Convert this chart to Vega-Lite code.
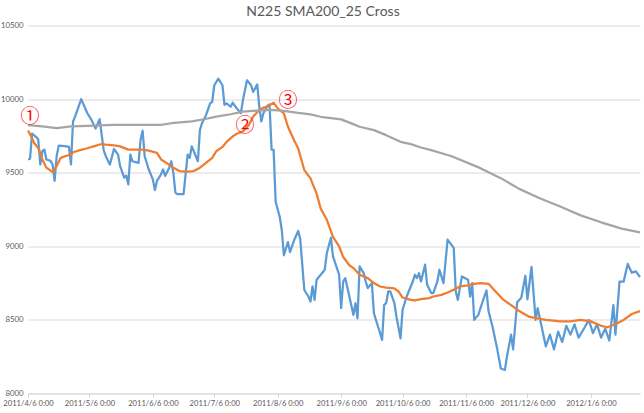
{
  "$schema": "https://vega.github.io/schema/vega-lite/v6.json",
  "width": 612,
  "height": 368,
  "autosize": {"type": "none"},
  "padding": {"left": 28, "top": 25.5, "right": 4, "bottom": 19.5},
  "background": "white",
  "config": {"view": {"stroke": null}, "font": "Lato"},
  "title": {"text": "N225 SMA200_25 Cross", "fontSize": 14, "font": "Lato", "fontWeight": "normal", "color": "#595959", "offset": 3, "dx": -11, "anchor": "middle"},
  "datasets": {
    "close": [
      {"date": "2011/04/06", "value": 9590}, {"date": "2011/04/07", "value": 9595}, {"date": "2011/04/08", "value": 9765},
      {"date": "2011/04/10", "value": 9742}, {"date": "2011/04/11", "value": 9725}, {"date": "2011/04/12", "value": 9556},
      {"date": "2011/04/13", "value": 9646}, {"date": "2011/04/14", "value": 9657}, {"date": "2011/04/15", "value": 9590},
      {"date": "2011/04/17", "value": 9580}, {"date": "2011/04/18", "value": 9556}, {"date": "2011/04/19", "value": 9444},
      {"date": "2011/04/20", "value": 9612}, {"date": "2011/04/21", "value": 9684}, {"date": "2011/04/24", "value": 9680},
      {"date": "2011/04/26", "value": 9675}, {"date": "2011/04/27", "value": 9556}, {"date": "2011/04/28", "value": 9848},
      {"date": "2011/04/29", "value": 9881}, {"date": "2011/05/02", "value": 10000}, {"date": "2011/05/05", "value": 9904},
      {"date": "2011/05/07", "value": 9859}, {"date": "2011/05/09", "value": 9800}, {"date": "2011/05/11", "value": 9863},
      {"date": "2011/05/13", "value": 9652}, {"date": "2011/05/14", "value": 9612}, {"date": "2011/05/16", "value": 9556},
      {"date": "2011/05/18", "value": 9661}, {"date": "2011/05/20", "value": 9623}, {"date": "2011/05/21", "value": 9545},
      {"date": "2011/05/23", "value": 9466}, {"date": "2011/05/24", "value": 9480}, {"date": "2011/05/25", "value": 9421},
      {"date": "2011/05/26", "value": 9623}, {"date": "2011/05/27", "value": 9578}, {"date": "2011/05/30", "value": 9567},
      {"date": "2011/05/31", "value": 9724}, {"date": "2011/06/01", "value": 9785}, {"date": "2011/06/02", "value": 9612},
      {"date": "2011/06/04", "value": 9522}, {"date": "2011/06/06", "value": 9455}, {"date": "2011/06/07", "value": 9383},
      {"date": "2011/06/08", "value": 9444}, {"date": "2011/06/10", "value": 9489}, {"date": "2011/06/11", "value": 9522},
      {"date": "2011/06/12", "value": 9478}, {"date": "2011/06/14", "value": 9534}, {"date": "2011/06/15", "value": 9578},
      {"date": "2011/06/16", "value": 9500}, {"date": "2011/06/17", "value": 9365}, {"date": "2011/06/18", "value": 9354},
      {"date": "2011/06/21", "value": 9354}, {"date": "2011/06/22", "value": 9489}, {"date": "2011/06/23", "value": 9623},
      {"date": "2011/06/24", "value": 9601}, {"date": "2011/06/25", "value": 9679}, {"date": "2011/06/27", "value": 9612},
      {"date": "2011/06/28", "value": 9578}, {"date": "2011/06/29", "value": 9791}, {"date": "2011/06/30", "value": 9836},
      {"date": "2011/07/02", "value": 9892}, {"date": "2011/07/04", "value": 9971}, {"date": "2011/07/05", "value": 9982},
      {"date": "2011/07/06", "value": 10094}, {"date": "2011/07/08", "value": 10139}, {"date": "2011/07/10", "value": 10094},
      {"date": "2011/07/11", "value": 9960}, {"date": "2011/07/12", "value": 9971}, {"date": "2011/07/14", "value": 9948},
      {"date": "2011/07/15", "value": 9975}, {"date": "2011/07/17", "value": 9937}, {"date": "2011/07/19", "value": 9904},
      {"date": "2011/07/20", "value": 9993}, {"date": "2011/07/22", "value": 10128}, {"date": "2011/07/24", "value": 10094},
      {"date": "2011/07/25", "value": 10049}, {"date": "2011/07/27", "value": 10099}, {"date": "2011/07/28", "value": 9948},
      {"date": "2011/07/29", "value": 9848}, {"date": "2011/07/30", "value": 9904}, {"date": "2011/08/01", "value": 9955},
      {"date": "2011/08/02", "value": 9964}, {"date": "2011/08/03", "value": 9657}, {"date": "2011/08/04", "value": 9655},
      {"date": "2011/08/05", "value": 9301}, {"date": "2011/08/07", "value": 9199}, {"date": "2011/08/08", "value": 9109},
      {"date": "2011/08/09", "value": 8939}, {"date": "2011/08/11", "value": 9029}, {"date": "2011/08/12", "value": 8961},
      {"date": "2011/08/14", "value": 9041}, {"date": "2011/08/16", "value": 9104}, {"date": "2011/08/17", "value": 9050},
      {"date": "2011/08/19", "value": 8703}, {"date": "2011/08/21", "value": 8659}, {"date": "2011/08/22", "value": 8625},
      {"date": "2011/08/23", "value": 8727}, {"date": "2011/08/24", "value": 8636}, {"date": "2011/08/25", "value": 8773},
      {"date": "2011/08/27", "value": 8807}, {"date": "2011/08/29", "value": 8841}, {"date": "2011/08/30", "value": 8955},
      {"date": "2011/09/01", "value": 9057}, {"date": "2011/09/02", "value": 8932}, {"date": "2011/09/05", "value": 8807},
      {"date": "2011/09/06", "value": 8580}, {"date": "2011/09/07", "value": 8761}, {"date": "2011/09/08", "value": 8784},
      {"date": "2011/09/10", "value": 8659}, {"date": "2011/09/12", "value": 8534}, {"date": "2011/09/13", "value": 8614},
      {"date": "2011/09/14", "value": 8511}, {"date": "2011/09/15", "value": 8864}, {"date": "2011/09/17", "value": 8818},
      {"date": "2011/09/18", "value": 8761}, {"date": "2011/09/19", "value": 8716}, {"date": "2011/09/21", "value": 8750},
      {"date": "2011/09/22", "value": 8545}, {"date": "2011/09/24", "value": 8455}, {"date": "2011/09/26", "value": 8364},
      {"date": "2011/09/27", "value": 8602}, {"date": "2011/09/28", "value": 8614}, {"date": "2011/09/29", "value": 8693},
      {"date": "2011/09/30", "value": 8693}, {"date": "2011/10/02", "value": 8614}, {"date": "2011/10/03", "value": 8523},
      {"date": "2011/10/05", "value": 8375}, {"date": "2011/10/06", "value": 8568}, {"date": "2011/10/08", "value": 8659},
      {"date": "2011/10/10", "value": 8727}, {"date": "2011/10/11", "value": 8761}, {"date": "2011/10/12", "value": 8807},
      {"date": "2011/10/13", "value": 8784}, {"date": "2011/10/14", "value": 8818}, {"date": "2011/10/15", "value": 8761},
      {"date": "2011/10/17", "value": 8875}, {"date": "2011/10/18", "value": 8739}, {"date": "2011/10/20", "value": 8682},
      {"date": "2011/10/21", "value": 8682}, {"date": "2011/10/23", "value": 8761}, {"date": "2011/10/24", "value": 8841},
      {"date": "2011/10/26", "value": 8750}, {"date": "2011/10/28", "value": 9045}, {"date": "2011/10/31", "value": 8989},
      {"date": "2011/11/01", "value": 8693}, {"date": "2011/11/02", "value": 8636}, {"date": "2011/11/04", "value": 8795},
      {"date": "2011/11/07", "value": 8773}, {"date": "2011/11/08", "value": 8659}, {"date": "2011/11/09", "value": 8750},
      {"date": "2011/11/10", "value": 8500}, {"date": "2011/11/12", "value": 8534}, {"date": "2011/11/14", "value": 8620},
      {"date": "2011/11/16", "value": 8700}, {"date": "2011/11/17", "value": 8560}, {"date": "2011/11/19", "value": 8450},
      {"date": "2011/11/21", "value": 8320}, {"date": "2011/11/23", "value": 8170}, {"date": "2011/11/25", "value": 8160},
      {"date": "2011/11/26", "value": 8250}, {"date": "2011/11/28", "value": 8400}, {"date": "2011/11/29", "value": 8300},
      {"date": "2011/12/01", "value": 8620}, {"date": "2011/12/03", "value": 8650}, {"date": "2011/12/05", "value": 8800},
      {"date": "2011/12/06", "value": 8640}, {"date": "2011/12/08", "value": 8860}, {"date": "2011/12/10", "value": 8500},
      {"date": "2011/12/11", "value": 8580}, {"date": "2011/12/13", "value": 8450}, {"date": "2011/12/15", "value": 8320},
      {"date": "2011/12/17", "value": 8400}, {"date": "2011/12/19", "value": 8300}, {"date": "2011/12/21", "value": 8420},
      {"date": "2011/12/23", "value": 8350}, {"date": "2011/12/25", "value": 8460}, {"date": "2011/12/27", "value": 8400},
      {"date": "2011/12/29", "value": 8470}, {"date": "2011/12/31", "value": 8380}, {"date": "2012/01/03", "value": 8450},
      {"date": "2012/01/05", "value": 8500}, {"date": "2012/01/07", "value": 8410}, {"date": "2012/01/09", "value": 8470},
      {"date": "2012/01/11", "value": 8380}, {"date": "2012/01/13", "value": 8440}, {"date": "2012/01/15", "value": 8360},
      {"date": "2012/01/17", "value": 8600}, {"date": "2012/01/18", "value": 8400}, {"date": "2012/01/20", "value": 8760},
      {"date": "2012/01/22", "value": 8760}, {"date": "2012/01/24", "value": 8880}, {"date": "2012/01/26", "value": 8820},
      {"date": "2012/01/28", "value": 8830}, {"date": "2012/01/30", "value": 8790}
    ],
    "sma25": [
      {"date": "2011/04/06", "value": 9787}, {"date": "2011/04/08", "value": 9735}, {"date": "2011/04/09", "value": 9702},
      {"date": "2011/04/11", "value": 9668}, {"date": "2011/04/13", "value": 9590}, {"date": "2011/04/15", "value": 9534},
      {"date": "2011/04/18", "value": 9504}, {"date": "2011/04/20", "value": 9545}, {"date": "2011/04/22", "value": 9601},
      {"date": "2011/04/24", "value": 9612}, {"date": "2011/04/27", "value": 9623}, {"date": "2011/04/28", "value": 9639},
      {"date": "2011/05/01", "value": 9652}, {"date": "2011/05/05", "value": 9666}, {"date": "2011/05/08", "value": 9679},
      {"date": "2011/05/12", "value": 9695}, {"date": "2011/05/14", "value": 9691}, {"date": "2011/05/18", "value": 9686},
      {"date": "2011/05/21", "value": 9679}, {"date": "2011/05/25", "value": 9657}, {"date": "2011/05/28", "value": 9657},
      {"date": "2011/06/01", "value": 9657}, {"date": "2011/06/04", "value": 9650}, {"date": "2011/06/08", "value": 9635},
      {"date": "2011/06/10", "value": 9590}, {"date": "2011/06/13", "value": 9563}, {"date": "2011/06/16", "value": 9534},
      {"date": "2011/06/19", "value": 9511}, {"date": "2011/06/23", "value": 9507}, {"date": "2011/06/26", "value": 9511},
      {"date": "2011/06/29", "value": 9534}, {"date": "2011/07/02", "value": 9567}, {"date": "2011/07/05", "value": 9601},
      {"date": "2011/07/07", "value": 9646}, {"date": "2011/07/10", "value": 9675}, {"date": "2011/07/12", "value": 9709},
      {"date": "2011/07/15", "value": 9747}, {"date": "2011/07/17", "value": 9765}, {"date": "2011/07/20", "value": 9780},
      {"date": "2011/07/23", "value": 9825}, {"date": "2011/07/25", "value": 9881}, {"date": "2011/07/28", "value": 9926},
      {"date": "2011/07/30", "value": 9942}, {"date": "2011/08/01", "value": 9950}, {"date": "2011/08/04", "value": 9975},
      {"date": "2011/08/06", "value": 9937}, {"date": "2011/08/09", "value": 9903}, {"date": "2011/08/11", "value": 9812},
      {"date": "2011/08/14", "value": 9721}, {"date": "2011/08/16", "value": 9665}, {"date": "2011/08/19", "value": 9517},
      {"date": "2011/08/22", "value": 9461}, {"date": "2011/08/25", "value": 9358}, {"date": "2011/08/27", "value": 9256},
      {"date": "2011/08/30", "value": 9180}, {"date": "2011/09/02", "value": 9064}, {"date": "2011/09/05", "value": 9000},
      {"date": "2011/09/07", "value": 8927}, {"date": "2011/09/10", "value": 8871}, {"date": "2011/09/12", "value": 8852},
      {"date": "2011/09/15", "value": 8807}, {"date": "2011/09/19", "value": 8784}, {"date": "2011/09/22", "value": 8750},
      {"date": "2011/09/25", "value": 8727}, {"date": "2011/09/28", "value": 8720}, {"date": "2011/10/02", "value": 8714},
      {"date": "2011/10/04", "value": 8693}, {"date": "2011/10/06", "value": 8652}, {"date": "2011/10/10", "value": 8636},
      {"date": "2011/10/12", "value": 8632}, {"date": "2011/10/15", "value": 8641}, {"date": "2011/10/19", "value": 8648},
      {"date": "2011/10/21", "value": 8659}, {"date": "2011/10/25", "value": 8670}, {"date": "2011/10/28", "value": 8686},
      {"date": "2011/10/31", "value": 8705}, {"date": "2011/11/03", "value": 8727}, {"date": "2011/11/07", "value": 8734},
      {"date": "2011/11/10", "value": 8745}, {"date": "2011/11/13", "value": 8750}, {"date": "2011/11/17", "value": 8745},
      {"date": "2011/11/20", "value": 8700}, {"date": "2011/11/24", "value": 8640}, {"date": "2011/11/28", "value": 8600},
      {"date": "2011/12/02", "value": 8560}, {"date": "2011/12/07", "value": 8520}, {"date": "2011/12/15", "value": 8500},
      {"date": "2011/12/22", "value": 8490}, {"date": "2011/12/27", "value": 8490}, {"date": "2012/01/01", "value": 8500},
      {"date": "2012/01/06", "value": 8490}, {"date": "2012/01/11", "value": 8460}, {"date": "2012/01/14", "value": 8450},
      {"date": "2012/01/18", "value": 8470}, {"date": "2012/01/22", "value": 8500}, {"date": "2012/01/26", "value": 8540},
      {"date": "2012/01/30", "value": 8560}
    ],
    "sma200": [
      {"date": "2011/04/06", "value": 9823}, {"date": "2011/04/13", "value": 9814}, {"date": "2011/04/20", "value": 9803},
      {"date": "2011/04/27", "value": 9814}, {"date": "2011/05/05", "value": 9818}, {"date": "2011/05/11", "value": 9821},
      {"date": "2011/05/18", "value": 9825}, {"date": "2011/05/31", "value": 9825}, {"date": "2011/06/10", "value": 9825},
      {"date": "2011/06/15", "value": 9836}, {"date": "2011/06/25", "value": 9848}, {"date": "2011/07/01", "value": 9863},
      {"date": "2011/07/07", "value": 9881}, {"date": "2011/07/14", "value": 9897}, {"date": "2011/07/20", "value": 9915},
      {"date": "2011/07/27", "value": 9922}, {"date": "2011/08/03", "value": 9926}, {"date": "2011/08/09", "value": 9920},
      {"date": "2011/08/16", "value": 9906}, {"date": "2011/08/22", "value": 9896}, {"date": "2011/08/27", "value": 9880},
      {"date": "2011/09/06", "value": 9862}, {"date": "2011/09/11", "value": 9835}, {"date": "2011/09/15", "value": 9812},
      {"date": "2011/09/22", "value": 9789}, {"date": "2011/09/28", "value": 9755}, {"date": "2011/10/05", "value": 9710},
      {"date": "2011/10/10", "value": 9694}, {"date": "2011/10/15", "value": 9671}, {"date": "2011/10/20", "value": 9653},
      {"date": "2011/10/30", "value": 9612}, {"date": "2011/11/13", "value": 9531}, {"date": "2011/11/23", "value": 9463},
      {"date": "2011/12/02", "value": 9390}, {"date": "2011/12/12", "value": 9327}, {"date": "2011/12/22", "value": 9270},
      {"date": "2012/01/01", "value": 9210}, {"date": "2012/01/11", "value": 9163}, {"date": "2012/01/21", "value": 9120},
      {"date": "2012/01/30", "value": 9095}
    ],
    "marks": [
      {"date": "2011/04/07", "value": 9880, "label": "①"},
      {"date": "2011/07/21", "value": 9815, "label": "②"},
      {"date": "2011/08/11", "value": 9985, "label": "③"}
    ]
  },
  "encoding": {
    "x": {
      "field": "date", "type": "temporal",
      "scale": {"domain": [{"year": 2011, "month": 4, "date": 6}, {"year": 2012, "month": 1, "date": 30}]},
      "axis": {
        "title": null, "grid": false, "format": "%Y/%-m/%-d %-H:%M",
        "values": [
          {"year": 2011, "month": 4, "date": 6}, {"year": 2011, "month": 5, "date": 6}, {"year": 2011, "month": 6, "date": 6},
          {"year": 2011, "month": 7, "date": 6}, {"year": 2011, "month": 8, "date": 6}, {"year": 2011, "month": 9, "date": 6},
          {"year": 2011, "month": 10, "date": 6}, {"year": 2011, "month": 11, "date": 6}, {"year": 2011, "month": 12, "date": 6},
          {"year": 2012, "month": 1, "date": 6}
        ],
        "domainColor": "#D9D9D9", "tickColor": "#D9D9D9", "tickSize": 4,
        "labelFont": "Lato", "labelFontSize": 7.6, "labelColor": "#595959", "labelPadding": 2,
        "labelOverlap": false, "labelFlush": false
      }
    },
    "y": {
      "field": "value", "type": "quantitative",
      "scale": {"domain": [8000, 10500], "nice": false, "zero": false},
      "axis": {
        "title": null, "values": [8000, 8500, 9000, 9500, 10000, 10500], "format": "d",
        "grid": true, "gridColor": "#D9D9D9", "domain": false, "ticks": false,
        "labelPadding": 5, "labelFont": "Lato", "labelFontSize": 7.8, "labelColor": "#595959"
      }
    }
  },
  "layer": [
    {"data": {"name": "close"}, "mark": {"type": "line", "color": "#5B9BD5", "strokeWidth": 2.25, "strokeJoin": "round"}},
    {"data": {"name": "sma25"}, "mark": {"type": "line", "color": "#ED7D31", "strokeWidth": 2.25, "strokeJoin": "round"}},
    {"data": {"name": "sma200"}, "mark": {"type": "line", "color": "#A5A5A5", "strokeWidth": 2.25, "strokeJoin": "round"}},
    {"data": {"name": "marks"}, "mark": {"type": "text", "color": "#FF0000", "font": "Noto Sans CJK JP", "fontSize": 19, "align": "center", "baseline": "middle"},
     "encoding": {"text": {"field": "label", "type": "nominal"}}}
  ]
}
